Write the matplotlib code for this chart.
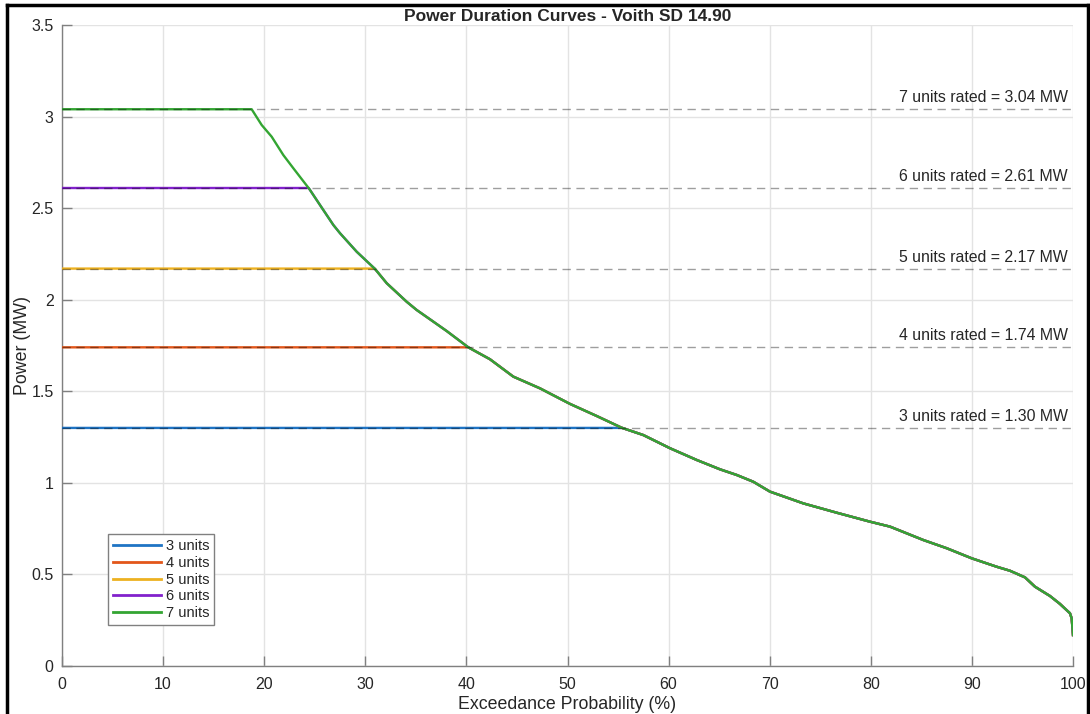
import numpy as np
import matplotlib
matplotlib.use("Agg")
import matplotlib.pyplot as plt
from matplotlib.lines import Line2D

plt.rcParams['font.family'] = ['Liberation Sans', 'DejaVu Sans']

# ---- data ----
units = [3, 4, 5, 6, 7]
rated_mw = [1.30, 1.74, 2.17, 2.61, 3.04]
unit_colors = ['#1F74C4', '#E2561A', '#EDB120', '#8221CC', '#33A532']

exceed_pct = [18.76, 19.75, 20.74, 21.89, 22.88, 24.46, 25.52, 26.84, 27.50, 29.15,
              30.96, 32.12, 34.09, 35.08, 36.40, 38.05, 40.19, 42.33, 44.64, 47.28,
              50.25, 52.89, 55.36, 57.50, 60.14, 62.78, 65.08, 66.74, 68.38, 70.03,
              73.32, 76.63, 79.92, 81.90, 85.19, 87.51, 89.98, 92.45, 93.77, 95.25,
              96.24, 97.73, 98.71, 99.70, 99.87, 100.0]
power_mw = [3.040, 2.954, 2.890, 2.790, 2.718, 2.605, 2.517, 2.408, 2.363, 2.262,
            2.168, 2.090, 1.989, 1.944, 1.893, 1.829, 1.740, 1.675, 1.580, 1.516,
            1.431, 1.365, 1.301, 1.261, 1.189, 1.125, 1.074, 1.043, 1.006, 0.952,
            0.888, 0.837, 0.788, 0.761, 0.688, 0.643, 0.588, 0.542, 0.520, 0.484,
            0.433, 0.382, 0.339, 0.288, 0.260, 0.169]

title = 'Power Duration Curves - Voith SD 14.90'
xlabel = 'Exceedance Probability (%)'
ylabel = 'Power (MW)'

W, H = 1090, 714
fig = plt.figure(figsize=(W / 100, H / 100), dpi=100)
ax = fig.add_axes([62 / W, (H - 666) / H, (1073 - 62) / W, (666 - 25) / H])

pct = np.array(exceed_pct)
pw = np.array(power_mw)

for n, r, c in zip(units, rated_mw, unit_colors):
    xc = np.interp(r, pw[::-1], pct[::-1])
    mask = pct > xc + 1e-9
    xs = np.concatenate([[0.0, xc], pct[mask]])
    ys = np.concatenate([[r, r], pw[mask]])
    ax.plot(xs, ys, color=c, lw=1.7, label=f'{n} units', zorder=3,
            solid_joinstyle='round')

for n, r in zip(units, rated_mw):
    ax.axhline(r, color='black', alpha=0.38, lw=1.0, ls=(0, (6, 4)), zorder=4)
    ax.text(99.5, r + 0.022, f'{n} units rated = {r:.2f} MW', ha='right', va='bottom',
            fontsize=11.4, color='#262626', zorder=5)

ax.set_xlim(0, 100)
ax.set_ylim(0, 3.5)
ax.set_xticks(np.arange(0, 101, 10))
ax.set_yticks(np.arange(0, 3.51, 0.5))
ax.set_yticklabels(['0', '0.5', '1', '1.5', '2', '2.5', '3', '3.5'])
ax.grid(True, color='#E3E3E3', lw=1.0, zorder=0)
ax.set_axisbelow(True)
for s in ['top', 'right']:
    ax.spines[s].set_visible(False)
for s in ['left', 'bottom']:
    ax.spines[s].set_color('#808080')
    ax.spines[s].set_linewidth(1.0)
ax.tick_params(direction='in', length=7, width=1.0, color='#808080',
               labelsize=11.5, labelcolor='#262626', pad=6)
ax.tick_params(axis='x', pad=8)

ax.set_xlabel(xlabel, fontsize=12.8, color='#262626', labelpad=3)
ax.set_ylabel(ylabel, fontsize=12.8, color='#262626')
ax.yaxis.set_label_coords(-0.0306, 0.5)
ax.set_title(title, fontsize=12.5, fontweight='bold', color='#262626', pad=3)

leg = ax.legend(loc='lower left', bbox_to_anchor=(0.0455, 0.064), fontsize=10.5,
                handlelength=3.3, handletextpad=0.3, labelspacing=0.18,
                borderpad=0.35, fancybox=False, framealpha=1, edgecolor='#808080',
                borderaxespad=0)
leg.get_frame().set_linewidth(1.0)
for t in leg.get_texts():
    t.set_color('#262626')
for l in leg.get_lines():
    l.set_linewidth(2.0)

# figure border (left, top, right)
fig.add_artist(Line2D([7 / W, 7 / W], [0, 1 - 5 / H], color='black', lw=2.5,
                      transform=fig.transFigure))
fig.add_artist(Line2D([7 / W, 1088 / W], [1 - 5 / H, 1 - 5 / H], color='black', lw=2.5,
                      transform=fig.transFigure))
fig.add_artist(Line2D([1088 / W, 1088 / W], [0, 1 - 5 / H], color='black', lw=2.5,
                      transform=fig.transFigure))

fig.savefig('out.png', dpi=100)
